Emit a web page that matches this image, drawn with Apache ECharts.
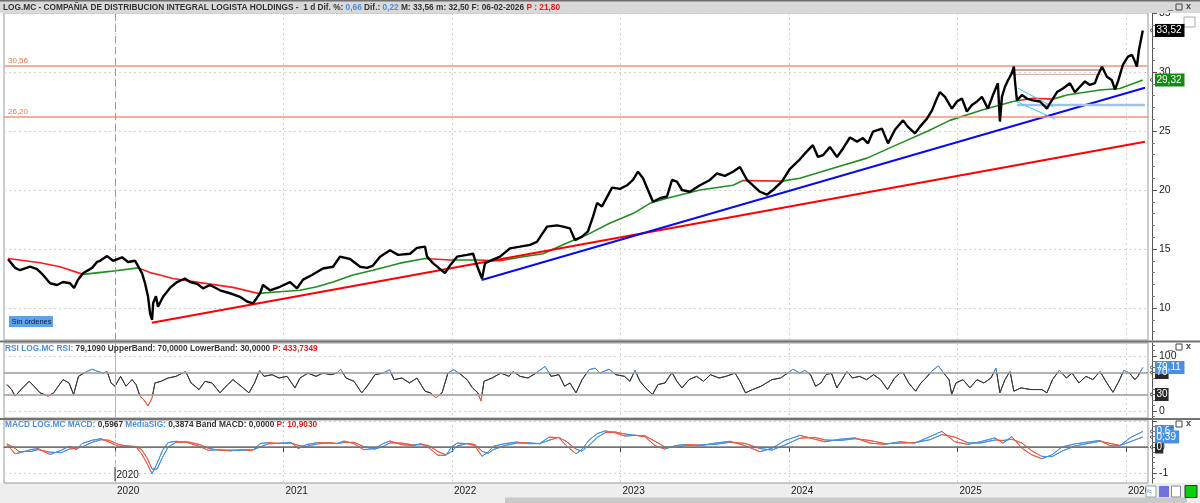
<!DOCTYPE html>
<html>
<head>
<meta charset="utf-8">
<title>LOG.MC</title>
<script src="https://cdn.jsdelivr.net/npm/echarts@6/dist/echarts.min.js"></script>
<style>
  html, body { margin: 0; padding: 0; background: #fff; }
  #chart { width: 1200px; height: 503px; }
</style>
</head>
<body>
<div id="chart"></div>
<script>
// fechas en años decimales
const priceT = [
  2019.365, 2019.407, 2019.436, 2019.496, 2019.537, 2019.573, 2019.614, 2019.656, 2019.691, 2019.733,
  2019.757, 2019.780, 2019.810, 2019.864, 2019.893, 2019.911, 2019.953, 2019.988,
  2020.042, 2020.077, 2020.119, 2020.137, 2020.160, 2020.178, 2020.196, 2020.208, 2020.220, 2020.226,
  2020.243, 2020.255, 2020.285, 2020.326, 2020.368, 2020.415, 2020.445, 2020.487, 2020.522, 2020.564,
  2020.623, 2020.682, 2020.742, 2020.783, 2020.819, 2020.861, 2020.878, 2020.920, 2020.979,
  2021.039, 2021.080, 2021.116, 2021.169, 2021.234, 2021.294, 2021.335, 2021.395, 2021.454, 2021.496,
  2021.531, 2021.573, 2021.632, 2021.680, 2021.751, 2021.792, 2021.840, 2021.852, 2021.887, 2021.958, 2021.988,
  2022.030, 2022.089, 2022.125, 2022.148, 2022.178, 2022.196, 2022.243, 2022.285, 2022.344, 2022.404,
  2022.463, 2022.504, 2022.564, 2022.623, 2022.659, 2022.700, 2022.730, 2022.772, 2022.807, 2022.837,
  2022.861, 2022.890, 2022.920, 2022.950, 2022.997,
  2023.039, 2023.074, 2023.104, 2023.134, 2023.163, 2023.193, 2023.234, 2023.276, 2023.306, 2023.335,
  2023.365, 2023.412, 2023.472, 2023.531, 2023.573, 2023.620, 2023.668, 2023.709, 2023.751, 2023.786,
  2023.828, 2023.869, 2023.905, 2023.958,
  2024.006, 2024.065, 2024.095, 2024.142, 2024.172, 2024.202, 2024.243, 2024.285, 2024.320, 2024.362,
  2024.404, 2024.439, 2024.469, 2024.499, 2024.552, 2024.588, 2024.629, 2024.677, 2024.706, 2024.748,
  2024.777, 2024.819, 2024.849, 2024.878, 2024.896, 2024.926, 2024.967, 2024.997,
  2025.027, 2025.056, 2025.086, 2025.116, 2025.145, 2025.181, 2025.211, 2025.240, 2025.252, 2025.264,
  2025.282, 2025.300, 2025.323, 2025.335, 2025.341, 2025.353, 2025.383, 2025.412, 2025.448, 2025.490,
  2025.531, 2025.549, 2025.591, 2025.626, 2025.668, 2025.697, 2025.727, 2025.757, 2025.786, 2025.816,
  2025.834, 2025.858, 2025.887, 2025.917, 2025.935, 2025.953, 2025.982,
  2026.012, 2026.036, 2026.053, 2026.065, 2026.077, 2026.100
];
const priceV = [
  14.13, 13.4, 13.2, 13.5, 13.3, 12.8, 12.1, 11.95, 12.2, 12.1,
  11.7, 12.4, 12.95, 13.4, 13.9, 14.0, 14.4, 14.0,
  14.3, 13.9, 14.0, 13.55, 12.95, 12.1, 10.95, 9.55, 9.0, 10.4,
  11.0, 10.1, 10.95, 11.7, 12.2, 12.5, 12.2, 12.05, 11.67, 11.95,
  11.5, 11.25, 10.95, 10.55, 10.4, 11.25, 11.95, 11.5, 11.8,
  12.2, 11.67, 12.4, 12.8, 13.35, 13.5, 14.35, 14.15, 13.5, 13.4,
  13.6, 14.35, 14.9, 14.5, 14.6, 15.1, 15.2, 14.35, 13.8, 12.95, 13.6,
  14.35, 14.5, 14.6, 13.6, 12.5, 13.8, 14.1, 14.35, 15.05, 15.2,
  15.35, 15.6, 16.9, 17.0, 16.9, 16.75, 15.75, 16.05, 16.5, 17.75,
  18.9, 18.6, 19.4, 20.2, 20.1,
  20.4, 20.85, 21.55, 21.0, 20.0, 19.0, 19.3, 19.45, 20.85, 20.7,
  20.0, 19.85, 20.4, 20.85, 21.4, 21.2, 21.55, 21.95, 20.85, 20.4,
  19.85, 19.6, 20.0, 20.7,
  21.8, 22.6, 23.1, 23.8, 22.8, 22.95, 23.65, 22.8, 23.5, 24.45,
  24.1, 24.4, 23.95, 24.95, 25.2, 23.95, 25.1, 25.9, 25.35, 24.8,
  25.35, 26.05, 26.75, 27.75, 28.3, 27.9, 26.9, 27.5,
  27.75, 26.65, 27.2, 27.5, 27.9, 26.9, 28.05, 29.05, 25.8, 27.9,
  28.75, 29.3, 29.9, 30.45, 29.3, 27.6, 28.05, 27.75, 27.6, 27.5,
  26.9, 27.35, 28.3, 28.6, 29.05, 28.3, 28.75, 29.2, 28.9, 29.05,
  29.75, 30.45, 29.6, 29.3, 28.5, 29.2, 30.6,
  31.3, 31.45, 30.9, 30.45, 31.85, 33.52
];

// media móvil larga
const maT = [
  2019.365, 2019.555, 2019.674, 2019.810, 2019.970, 2020.137, 2020.208, 2020.267, 2020.344, 2020.504,
  2020.700, 2020.849, 2020.997, 2021.098, 2021.199, 2021.294, 2021.412, 2021.531, 2021.691, 2021.840,
  2021.988, 2022.148, 2022.285, 2022.404, 2022.540, 2022.682, 2022.801, 2022.938, 2023.074, 2023.175,
  2023.276, 2023.472, 2023.668, 2023.727, 2023.958, 2024.065, 2024.261, 2024.463, 2024.659, 2024.819,
  2024.955, 2025.151, 2025.329, 2025.448, 2025.567, 2025.650, 2025.846, 2025.964, 2026.100
];
const maV = [
  14.2, 13.84, 13.5, 12.85, 13.1, 13.4, 13.0, 12.8, 12.5, 12.15,
  11.75, 11.24, 11.4, 11.5, 11.8, 12.2, 12.8, 13.2, 13.8, 14.2,
  14.07, 14.07, 14.0, 14.3, 14.6, 15.5, 16.2, 17.2, 18.0, 18.87,
  19.3, 20.0, 20.4, 20.8, 20.75, 21.0, 21.84, 22.7, 23.95, 24.95,
  25.9, 26.8, 27.5, 27.77, 27.7, 28.05, 28.47, 28.6, 29.32
];
// tramos en que la media queda por encima del precio (roja)
const maRedFrom = [2019.0, 2020.137, 2021.852, 2022.148, 2023.727, 2025.383];
const maRedTo = [2019.810, 2020.849, 2022.000, 2022.315, 2023.958, 2025.579];

// líneas dibujadas
const levels = [30.56, 26.20];
const redTrend = [[2020.218, 8.75], [2026.113, 24.09]];
const blueTrend = [[2022.176, 12.37], [2026.113, 28.67]];
const blueLevel = [[2025.353, 27.2], [2026.113, 27.2]];
const wedgeUp = [[2025.359, 28.62], [2025.567, 27.06]];
const wedgeDown = [[2025.353, 27.48], [2025.579, 26.02]];
const brownHi = [[2025.329, 30.17], [2025.858, 30.17]];
const brownLo = [[2025.329, 29.8], [2025.858, 29.8]];

// RSI
const rsiT = [
  2019.359, 2019.386, 2019.407, 2019.442, 2019.490, 2019.519, 2019.555, 2019.602, 2019.636, 2019.656,
  2019.691, 2019.727, 2019.754, 2019.783, 2019.816, 2019.864, 2019.897, 2019.929, 2019.953, 2019.976,
  2020.000, 2020.033, 2020.065, 2020.101, 2020.125, 2020.148, 2020.169, 2020.196, 2020.220, 2020.237,
  2020.273, 2020.315, 2020.362, 2020.419, 2020.451, 2020.499, 2020.534, 2020.576, 2020.623, 2020.659,
  2020.700, 2020.748, 2020.795, 2020.828, 2020.858, 2020.884, 2020.932, 2020.973,
  2021.021, 2021.068, 2021.098, 2021.145, 2021.193, 2021.234, 2021.282, 2021.318, 2021.339, 2021.371,
  2021.418, 2021.464, 2021.496, 2021.543, 2021.591, 2021.630, 2021.656, 2021.703, 2021.748, 2021.792,
  2021.840, 2021.872, 2021.905, 2021.941, 2021.976,
  2022.009, 2022.042, 2022.089, 2022.122, 2022.154, 2022.172, 2022.190, 2022.237, 2022.291, 2022.338,
  2022.362, 2022.404, 2022.451, 2022.499, 2022.552, 2022.588, 2022.635, 2022.668, 2022.700, 2022.736,
  2022.772, 2022.813, 2022.849, 2022.878, 2022.932, 2022.973,
  2023.024, 2023.056, 2023.086, 2023.116, 2023.149, 2023.190, 2023.222, 2023.264, 2023.306, 2023.335,
  2023.365, 2023.407, 2023.451, 2023.493, 2023.534, 2023.585, 2023.626, 2023.680, 2023.709, 2023.742,
  2023.784, 2023.834, 2023.899, 2023.950, 2023.992,
  2024.024, 2024.065, 2024.095, 2024.128, 2024.158, 2024.190, 2024.220, 2024.252, 2024.284, 2024.315,
  2024.344, 2024.377, 2024.418, 2024.461, 2024.502, 2024.544, 2024.585, 2024.627, 2024.659, 2024.677,
  2024.710, 2024.752, 2024.783, 2024.813, 2024.846, 2024.887, 2024.918, 2024.950, 2024.966, 2024.991,
  2025.033, 2025.074, 2025.116, 2025.157, 2025.199, 2025.229, 2025.252, 2025.282, 2025.312, 2025.335,
  2025.377, 2025.436, 2025.501, 2025.531, 2025.564, 2025.605, 2025.647, 2025.680, 2025.721, 2025.763,
  2025.804, 2025.846, 2025.887, 2025.923, 2025.958, 2025.988,
  2026.021, 2026.053, 2026.071, 2026.100
];
const rsiV = [
  48, 39, 27, 39, 54, 45, 33, 27, 33, 42,
  57, 51, 30, 63, 69, 76, 72, 69, 72, 51,
  45, 63, 45, 57, 48, 27, 21, 9, 24, 51,
  54, 60, 63, 72, 51, 39, 54, 51, 33, 45,
  57, 45, 33, 51, 74, 63, 66, 60,
  63, 42, 60, 69, 63, 69, 66, 69, 76, 60,
  54, 33, 45, 66, 69, 75, 57, 60, 51, 60,
  36, 33, 24, 33, 69,
  75, 69, 57, 42, 33, 18, 54, 60, 69, 63,
  72, 63, 60, 69, 81, 63, 66, 45, 51, 33,
  57, 75, 78, 69, 76, 66,
  63, 54, 74, 54, 42, 30, 48, 51, 70, 54,
  42, 57, 63, 54, 66, 60, 63, 69, 54, 33,
  39, 45, 57, 60, 69,
  76, 69, 74, 66, 45, 51, 66, 69, 42, 57,
  72, 60, 63, 57, 66, 57, 39, 60, 69, 70,
  51, 36, 51, 60, 72, 82, 69, 57, 30, 51,
  57, 42, 57, 51, 60, 78, 33, 57, 72, 36,
  42, 39, 39, 33, 57, 74, 60, 69, 51, 63,
  57, 72, 51, 34, 54, 74,
  69, 57, 63, 79.11
];
const rsiBands = [70, 30];

// MACD y señal
const macdT = [
  2019.359, 2019.407, 2019.430, 2019.501, 2019.543, 2019.614, 2019.680, 2019.727, 2019.772, 2019.804,
  2019.864, 2019.917, 2019.964, 2020.021, 2020.065, 2020.125, 2020.158, 2020.190, 2020.220, 2020.249,
  2020.282, 2020.315, 2020.362, 2020.430, 2020.499, 2020.555, 2020.611, 2020.680, 2020.772, 2020.817,
  2020.861, 2020.908, 2020.973, 2021.045, 2021.089, 2021.134, 2021.202, 2021.270, 2021.318, 2021.359,
  2021.418, 2021.475, 2021.543, 2021.591, 2021.632, 2021.703, 2021.769, 2021.816, 2021.861, 2021.917,
  2021.964, 2021.998, 2022.030, 2022.089, 2022.134, 2022.178, 2022.214, 2022.247, 2022.315, 2022.383,
  2022.451, 2022.520, 2022.576, 2022.633, 2022.677, 2022.736, 2022.770, 2022.813, 2022.861, 2022.908,
  2022.967, 2023.027, 2023.086, 2023.145, 2023.205, 2023.264, 2023.323, 2023.383, 2023.472, 2023.561,
  2023.650, 2023.739, 2023.828, 2023.899, 2023.976, 2024.065, 2024.154, 2024.214, 2024.303, 2024.392,
  2024.481, 2024.570, 2024.659, 2024.748, 2024.837, 2024.908, 2024.985, 2025.062, 2025.134, 2025.223,
  2025.270, 2025.323, 2025.383, 2025.442, 2025.501, 2025.561, 2025.620, 2025.697, 2025.786, 2025.846,
  2025.905, 2025.964, 2026.024, 2026.100
];
const macdV = [
  0.09, -0.26, -0.23, -0.10, -0.06, -0.29, -0.13, 0.03, -0.10, 0.13,
  0.26, 0.32, 0.19, 0.03, 0.03, 0.00, -0.26, -0.64, -1.03, -0.64,
  -0.13, 0.17, 0.22, 0.17, 0.03, -0.13, -0.10, -0.15, -0.10, -0.13,
  0.13, 0.17, 0.13, 0.17, -0.06, 0.09, 0.17, 0.15, 0.13, 0.23,
  0.13, -0.10, -0.06, 0.13, 0.23, 0.09, 0.05, 0.13, -0.03, -0.32,
  -0.32, 0.00, 0.15, 0.13, 0.06, -0.36, -0.19, 0.03, 0.13, 0.19,
  0.13, 0.13, 0.38, 0.36, 0.06, -0.26, -0.10, 0.26, 0.51, 0.62,
  0.55, 0.42, 0.45, 0.40, 0.05, -0.08, 0.05, 0.10, 0.05, 0.15,
  0.22, 0.05, -0.18, -0.05, 0.25, 0.45, 0.30, 0.20, 0.30, 0.35,
  0.15, 0.10, 0.20, 0.15, 0.40, 0.60, 0.20, 0.10, 0.20, 0.35,
  0.15, 0.40, -0.05, -0.30, -0.45, -0.30, 0.00, 0.12, 0.20, 0.25,
  0.05, 0.05, 0.35, 0.5967
];
const sigV = [
  0.12, -0.05, -0.18, -0.17, -0.10, -0.20, -0.22, -0.08, -0.05, 0.00,
  0.18, 0.28, 0.26, 0.10, 0.04, 0.02, -0.10, -0.42, -0.85, -0.85,
  -0.40, 0.00, 0.18, 0.20, 0.10, -0.05, -0.12, -0.12, -0.12, -0.11,
  0.00, 0.12, 0.15, 0.15, 0.06, 0.02, 0.12, 0.16, 0.14, 0.17,
  0.18, 0.02, -0.08, 0.02, 0.16, 0.15, 0.08, 0.09, 0.06, -0.18,
  -0.30, -0.18, 0.04, 0.13, 0.10, -0.16, -0.25, -0.10, 0.06, 0.15,
  0.16, 0.13, 0.26, 0.37, 0.22, -0.08, -0.16, 0.06, 0.36, 0.55,
  0.58, 0.50, 0.45, 0.43, 0.22, 0.00, -0.02, 0.06, 0.08, 0.10,
  0.18, 0.14, -0.06, -0.12, 0.08, 0.34, 0.37, 0.27, 0.25, 0.32,
  0.25, 0.13, 0.15, 0.17, 0.28, 0.48, 0.38, 0.16, 0.15, 0.27,
  0.25, 0.30, 0.15, -0.15, -0.36, -0.37, -0.16, 0.04, 0.15, 0.22,
  0.14, 0.06, 0.20, 0.3874
];

const yearTicks = [2020, 2021, 2022, 2023, 2024, 2025, 2026];
const priceTicks = [10, 15, 20, 25, 30, 35];
const rsiTicks = [0, 100];
const macdTicks = [-1, 0, 1];
const cursorYear = 2020;

// ---------------------------------------------------------------
const FONT = 'Liberation Sans';
const X_MIN = 2019.341, X_MAX = 2026.131;
const SALMON = '#f4957a';
const MA_GREEN = '#1f8f1f', MA_RED = '#ff1a1a';
const UP_BLUE = '#4a8fe0', DN_RED = '#ea5b45';
const GRID_LINE = {color: '#d2d2d2', type: [2, 3], width: 1};

const zip = (t, v) => t.map((x, i) => [x, v[i]]);
const comma = (v, d) => v.toFixed(d).replace('.', ',');

const chart = echarts.init(document.getElementById('chart'));

const maPieces = maRedFrom.map((f, i) => ({gte: f, lt: maRedTo[i], color: MA_RED}));
const macdPieces = macdT.slice(1).map((t, i) => ({
  gte: i === 0 ? macdT[0] - 1 : macdT[i],
  lt: i === macdT.length - 2 ? t + 1 : t,
  color: macdV[i + 1] >= sigV[i + 1] ? UP_BLUE : DN_RED
}));

function xAxisFor(gridIndex, showLabels) {
  return {
    type: 'value', gridIndex, min: X_MIN, max: X_MAX,
    axisLine: {show: showLabels, lineStyle: {color: '#666'}},
    axisTick: {show: showLabels, customValues: yearTicks, length: 5, lineStyle: {color: '#444'}},
    axisLabel: {
      show: showLabels, customValues: yearTicks, align: 'left', margin: 3,
      padding: [0, 0, 0, 2], color: '#222', fontSize: 10, fontFamily: FONT,
      formatter: v => String(Math.round(v))
    },
    splitLine: {show: true, lineStyle: GRID_LINE}
  };
}

function yAxisFor(gridIndex, min, max, ticks, labels, step) {
  return {
    type: 'value', gridIndex, position: 'right', offset: 4, min, max,
    minInterval: step, maxInterval: step,
    axisLine: {show: true, lineStyle: {color: '#555'}},
    axisTick: {show: true, customValues: ticks, length: 5, lineStyle: {color: '#555'}},
    minorTick: {show: true, splitNumber: 5, length: 3, lineStyle: {color: '#777'}},
    axisLabel: {
      customValues: labels, color: '#222', fontSize: 10.5, fontFamily: FONT, margin: 7,
      formatter: v => String(v)
    },
    splitLine: {show: true, lineStyle: GRID_LINE}
  };
}

// color null: lo pone el visualMap
const plain = (name, data, color, width, x, y) => ({
  name, type: 'line', data, xAxisIndex: x || 0, yAxisIndex: y || 0,
  showSymbol: false, symbol: 'none', silent: true, animation: false,
  lineStyle: color ? {color, width} : {width}
});

const priceSeries = plain('LOG.MC', zip(priceT, priceV), '#000', 2.4);
priceSeries.z = 5;
priceSeries.markLine = {
  silent: true, symbol: 'none', animation: false,
  data: levels.map(l => ({
    yAxis: l,
    lineStyle: {color: SALMON, width: 1.5, type: 'solid'},
    label: {show: true, position: 'insideStartTop', formatter: comma(l, 2), color: '#e9744f',
            fontSize: 8, fontFamily: FONT, distance: [4, 1]}
  })).concat([{
    xAxis: cursorYear, lineStyle: {color: '#9a9a9a', width: 1, type: [7, 4]}, label: {show: false}
  }])
};

const rsiSeries = plain('RSI', zip(rsiT, rsiV), null, 1, 1, 1);
rsiSeries.markLine = {
  silent: true, symbol: 'none', animation: false,
  data: rsiBands.map(b => ({yAxis: b, lineStyle: {color: '#9a9a9a', width: 1.5, type: 'solid'}, label: {show: false}}))
    .concat([{xAxis: cursorYear, lineStyle: {color: '#b5b5b5', width: 1, type: 'solid'}, label: {show: false}}])
};

const macdSeries = plain('MACD', zip(macdT, macdV), null, 1, 2, 2);
macdSeries.markLine = {
  silent: true, symbol: 'none', animation: false,
  data: [
    {yAxis: 0, lineStyle: {color: '#777', width: 1.5, type: 'solid'}, label: {show: false}},
    {xAxis: cursorYear, lineStyle: {color: '#b5b5b5', width: 1, type: [5, 4]}, label: {show: false}}
  ]
};
const sigSeries = plain('MediaSIG', zip(macdT, sigV), null, 1, 2, 2);

const richStyle = {
  k: {color: '#333', fontSize: 8.3, fontFamily: FONT, lineHeight: 11},
  b: {color: '#4a8fe0', fontSize: 8.3, fontFamily: FONT, lineHeight: 11},
  r: {color: '#e51c1c', fontSize: 8.3, fontFamily: FONT, lineHeight: 11}
};

const option = {
  backgroundColor: '#fff',
  animation: false,
  title: [
    {
      left: 3, top: 2, padding: 0, z: 200,
      text: '{k|LOG.MC - COMPAÑIA DE DISTRIBUCION INTEGRAL LOGISTA HOLDINGS -  1 d Dif. %: }{b|0,66}{k| Dif.: }{b|0,22}{k| M: 33,56 m: 32,50 F: 06-02-2026 }{r|P : 21,80}',
      textStyle: {rich: richStyle}
    },
    {
      left: 5, top: 343, padding: 0, z: 200,
      text: '{b|RSI LOG.MC RSI: }{k|79,1090 UpperBand: 70,0000 LowerBand: 30,0000 }{r|P: 433,7349}',
      textStyle: {rich: richStyle}
    },
    {
      left: 5, top: 419, padding: 0, z: 200,
      text: '{b|MACD LOG.MC MACD: }{k|0,5967 }{b|MediaSIG: }{k|0,3874 Band MACD: 0,0000 }{r|P: 10,9030}',
      textStyle: {rich: richStyle}
    }
  ],
  grid: [
    {left: 4, top: 13, width: 1144, height: 327, show: true, borderColor: '#9a9a9a', borderWidth: 1},
    {left: 4, top: 343, width: 1144, height: 75, show: true, borderColor: '#9a9a9a', borderWidth: 1},
    {left: 4, top: 420, width: 1144, height: 63, show: true, borderColor: '#9a9a9a', borderWidth: 1}
  ],
  xAxis: [xAxisFor(0, false), xAxisFor(1, false), xAxisFor(2, true)],
  yAxis: [
    yAxisFor(0, 7.288, 35, priceTicks, priceTicks, 5),
    yAxisFor(1, -12.73, 123.64, rsiTicks, rsiTicks, 50),
    yAxisFor(2, -1.3846, 1.0385, macdTicks, [-1, 0], 1)
  ],
  visualMap: [
    {type: 'piecewise', show: false, seriesIndex: 0, dimension: 0, pieces: maPieces, outOfRange: {color: MA_GREEN}},
    {type: 'piecewise', show: false, seriesIndex: 9, dimension: 1, pieces: [
      {gt: 70, color: UP_BLUE}, {gte: 30, lte: 70, color: '#3a3a3a'}, {lt: 30, color: DN_RED}
    ]},
    {type: 'piecewise', show: false, seriesIndex: [10, 11], dimension: 0, pieces: macdPieces}
  ],
  series: [
    plain('Media', zip(maT, maV), null, 1.6),
    plain('Soporte largo', redTrend, '#ff0000', 2),
    plain('Soporte', blueTrend, '#0a0af0', 2),
    plain('Nivel', blueLevel, '#9cc4ea', 2.5),
    plain('Cuña sup', wedgeUp, '#3cc4f0', 1),
    plain('Cuña inf', wedgeDown, '#3cc4f0', 1),
    plain('Máx', brownHi, '#9a4a3a', 1),
    plain('Máx 2', brownLo, '#d6a89c', 1),
    priceSeries,
    rsiSeries,
    macdSeries,
    sigSeries
  ]
};

chart.setOption(option);

// ---- decoración y etiquetas de valor ----
function tag(yAxisIndex, value, text, bg) {
  const y = chart.convertToPixel({yAxisIndex}, value);
  const w = text.length * 5.3 + 3;
  return [
    {type: 'polyline', z: 120, shape: {points: [[1153, y - 2.5], [1150, y], [1153, y + 2.5]]},
     style: {stroke: '#555', fill: null, lineWidth: 1}},
    {type: 'rect', z: 120, shape: {x: 1155, y: y - 6.5, width: w, height: 13}, style: {fill: bg}},
    {type: 'text', z: 121, x: 1156.5, y: y, style: {text, fill: '#fff', font: '10px "Liberation Sans"', verticalAlign: 'middle'}}
  ];
}

function icons(y) {
  return [
    {type: 'text', z: 130, x: 1168, y, style: {text: '_', fill: '#444', font: '9px "Liberation Sans"', verticalAlign: 'middle'}},
    {type: 'rect', z: 130, shape: {x: 1176, y: y - 3, width: 6, height: 6}, style: {fill: null, stroke: '#444', lineWidth: 1}},
    {type: 'text', z: 130, x: 1186, y, style: {text: 'x', fill: '#444', font: 'bold 9px "Liberation Sans"', verticalAlign: 'middle'}}
  ];
}

const cx = chart.convertToPixel({xAxisIndex: 2}, cursorYear);
const graphics = [
  {type: 'rect', z: 100, shape: {x: 0, y: 0, width: 1200, height: 13}, style: {fill: '#d9d9d9'}},
  {type: 'rect', z: 101, shape: {x: 0, y: 0, width: 1200, height: 1.5}, style: {fill: '#6f6f6f'}},
  {type: 'rect', z: 101, shape: {x: 1184, y: 17, width: 11, height: 10}, style: {fill: '#fff', stroke: '#aaa', lineWidth: 1}},
  {type: 'rect', z: 90, shape: {x: 0, y: 340.5, width: 1200, height: 2}, style: {fill: '#737373'}},
  {type: 'rect', z: 90, shape: {x: 0, y: 418, width: 1200, height: 2}, style: {fill: '#737373'}},
  {type: 'rect', z: -1, shape: {x: 0, y: 483, width: 1200, height: 20}, style: {fill: '#eeeeee'}},
  {type: 'rect', z: -1, shape: {x: 505, y: 497.5, width: 682, height: 5.5}, style: {fill: '#c9c9c9'}},
  {type: 'rect', z: 90, shape: {x: 9, y: 316, width: 44, height: 11}, style: {fill: '#5ea2ea'}},
  {type: 'text', z: 91, x: 11.5, y: 321.5, style: {text: 'Sin órdenes', fill: '#10203a', font: '7.5px "Liberation Sans"', verticalAlign: 'middle'}},
  {type: 'line', z: 91, shape: {x1: cx, y1: 467, x2: cx, y2: 481}, style: {stroke: '#333', lineWidth: 1}},
  {type: 'text', z: 91, x: cx + 1.5, y: 475, style: {text: String(cursorYear), fill: '#222', font: '10px "Liberation Sans"', verticalAlign: 'middle'}},
  {type: 'rect', z: 91, shape: {x: 1146, y: 486, width: 10, height: 11}, style: {fill: '#fff', stroke: '#8aa', lineWidth: 1}},
  {type: 'text', z: 92, x: 1147, y: 491.5, style: {text: '≈', fill: '#3a7ad8', font: '9px "Liberation Sans"', verticalAlign: 'middle'}},
  {type: 'rect', z: 91, shape: {x: 1159, y: 486, width: 10, height: 11}, style: {fill: '#7070e0'}},
  {type: 'rect', z: 91, shape: {x: 1171.5, y: 486, width: 9, height: 11}, style: {fill: '#fff', stroke: '#889', lineWidth: 1}},
  {type: 'rect', z: 91, shape: {x: 1185, y: 485.5, width: 12, height: 12}, style: {fill: '#08d008', stroke: '#333', lineWidth: 1}}
]
  .concat(icons(7), icons(347), icons(424))
  .concat(tag(0, priceV[priceV.length - 1], comma(priceV[priceV.length - 1], 2), '#000'))
  .concat(tag(0, maV[maV.length - 1], comma(maV[maV.length - 1], 2), '#138a13'))
  .concat(tag(1, rsiBands[0], String(rsiBands[0]), '#2a2a2a'))
  .concat(tag(1, rsiBands[1], String(rsiBands[1]), '#2a2a2a'))
  .concat(tag(1, rsiV[rsiV.length - 1], comma(rsiV[rsiV.length - 1], 2), '#4a8fe0'))
  .concat(tag(2, 0, '0', '#2a2a2a'))
  .concat(tag(2, sigV[sigV.length - 1], comma(sigV[sigV.length - 1], 2), '#4a8fe0'))
  .concat(tag(2, macdV[macdV.length - 1], comma(macdV[macdV.length - 1], 1), '#4a8fe0'));

chart.setOption({graphic: graphics});
</script>
</body>
</html>
